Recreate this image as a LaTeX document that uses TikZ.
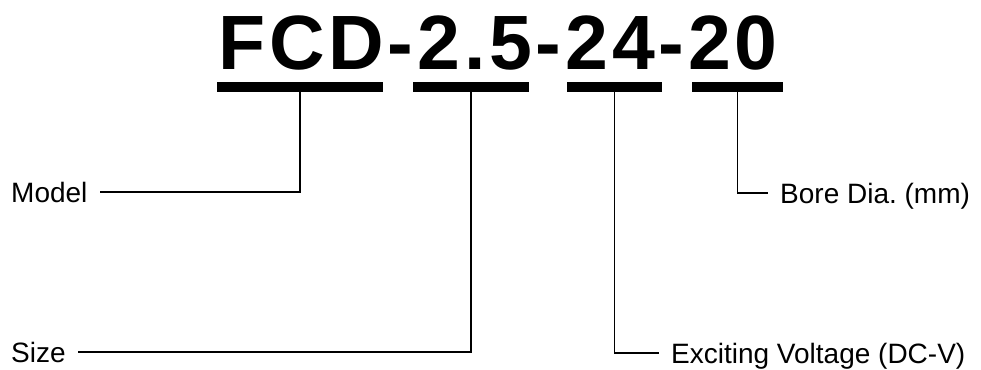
\documentclass[tikz,border=0pt]{standalone}
\usepackage{fontspec}
\setmainfont{Liberation Sans}
\usepackage{tikz}
\usetikzlibrary{positioning}
\frenchspacing

\begin{document}
\begin{tikzpicture}[
    x=1pt, y=-1pt,
    code/.style={inner sep=0pt, anchor=base west, font=\fontsize{77}{80}\selectfont\bfseries\addfontfeatures{LetterSpace=5}},
    bar/.style={rectangle, fill=black, inner sep=0pt, minimum height=10pt},
    label/.style={inner xsep=12pt, inner ysep=0pt, text height=20pt, text depth=0pt, anchor=base west, font=\fontsize{28}{30}\selectfont},
    lead/.style={line width=1.4pt}
]
\useasboundingbox (0,0) rectangle (981,369);

% Order code
\node[code] (title) at (218,70) {FCD-2.5-24-20};

% Bars under each field
\node[bar, minimum width=166pt] (bar1) at (300,87) {};
\node[bar, minimum width=116pt] (bar2) at (471,87) {};
\node[bar, minimum width=95pt] (bar3) at (614.5,87) {};
\node[bar, minimum width=91pt] (bar4) at (737.5,87) {};

% Labels
\node[label] (model) at (-1,202) {Model};
\node[label] (size) at (-1,362) {Size};
\node[label] (bore) at (768,203) {Bore Dia. (mm)};
\node[label] (volt) at (659,363) {Exciting Voltage (DC-V)};

% Leaders
\draw[lead] (bar1.south) |- (model.east);
\draw[lead] (bar2.south) |- (size.east);
\draw[lead] (bar3.south) |- (volt.west);
\draw[lead] (bar4.south) |- (bore.west);
\end{tikzpicture}
\end{document}
